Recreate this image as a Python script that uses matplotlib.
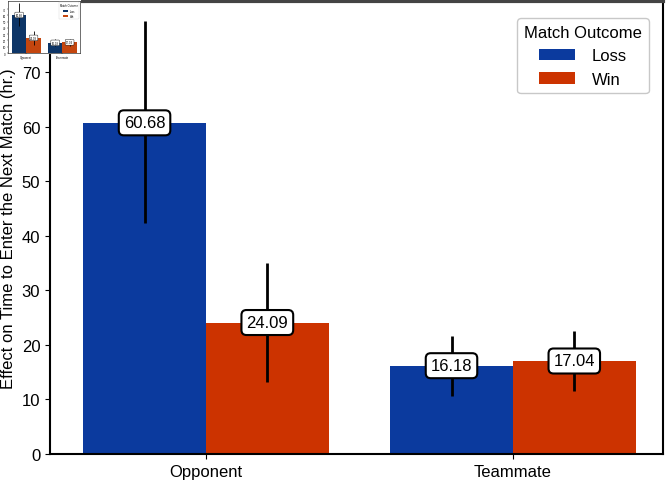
import matplotlib
matplotlib.use("Agg")
import matplotlib.pyplot as plt
import numpy as np

plt.rcParams["font.family"] = ["Liberation Sans", "DejaVu Sans"]

# data
categories = ["Opponent", "Teammate"]
outcomes = ["Loss", "Win"]
loss_means = [60.68, 16.18]
win_means = [24.09, 17.04]
loss_ci_low = [42.3, 10.6]
loss_ci_high = [79.3, 21.6]
win_ci_low = [13.2, 11.5]
win_ci_high = [35.0, 22.6]
y_ticks = [0, 10, 20, 30, 40, 50, 60, 70]

colors = ["#0b3a9e", "#cc3300"]
thumb_colors = ["#0d3567", "#c4460f"]

W, H = 666, 485


def px_axes(fig, x0, y0, x1, y1):
    # pixel box (top-left origin) -> figure axes
    return fig.add_axes([x0 / W, 1 - y1 / H, (x1 - x0) / W, (y1 - y0) / H])


def draw_bars(ax, cols, lw_err, fs, box_lw, with_labels=True):
    x = np.arange(len(categories))
    width = 0.4
    means = [loss_means, win_means]
    lows = [loss_ci_low, win_ci_low]
    highs = [loss_ci_high, win_ci_high]
    for i, name in enumerate(outcomes):
        pos = x - width / 2 + i * width
        ax.bar(pos, means[i], width, color=cols[i], label=name, zorder=2)
        ax.vlines(pos, lows[i], highs[i], color="black", lw=lw_err, zorder=3)
        if with_labels:
            for p, m in zip(pos, means[i]):
                ax.text(p, m, f"{m:.2f}", ha="center", va="center",
                        fontsize=fs, zorder=4,
                        bbox=dict(boxstyle="round,pad=0.3", fc="white",
                                  ec="black", lw=box_lw))
    ax.set_xticks(x)
    ax.set_xlim(-0.508, 1.489)
    ax.set_ylim(0, 83)
    ax.set_yticks(y_ticks)


fig = plt.figure(figsize=(W / 100, H / 100), dpi=100)

ax = px_axes(fig, 50, 2, 663, 455)
draw_bars(ax, colors, 2.0, 12, 1.5)
ax.set_xticklabels(categories, fontsize=12)
ax.tick_params(axis="y", labelsize=12)
ax.set_ylabel("Effect on Time to Enter the Next Match (hr.)", fontsize=12)
for s in ax.spines.values():
    s.set_linewidth(1.5)
ax.spines["top"].set_color("#444444")
ax.spines["top"].set_linewidth(3)
leg = ax.legend(title="Match Outcome", loc="upper right", fontsize=12,
                title_fontsize=12, bbox_to_anchor=(0.99, 0.98),
                handlelength=2.2, handletextpad=1.0)
leg.get_frame().set_edgecolor("#bbbbbb")

# small thumbnail of the same chart in the top-left corner
bg = px_axes(fig, 0, 0, 81, 55)
bg.set_facecolor("white")
bg.set_xticks([])
bg.set_yticks([])
for s in bg.spines.values():
    s.set_visible(False)

th = px_axes(fig, 8, 2, 80, 54)
draw_bars(th, thumb_colors, 0.6, 2, 0.3)
th.set_xticklabels(categories, fontsize=2)
th.tick_params(labelsize=2, length=1, width=0.3, pad=0.5)
th.set_ylabel("Effect on Time to Enter the Next Match (hr.)", fontsize=1.5,
              labelpad=1)
for s in th.spines.values():
    s.set_linewidth(0.4)
tl = th.legend(title="Match Outcome", loc="upper right", fontsize=1.8,
               title_fontsize=1.8, frameon=True)
tl.get_frame().set_linewidth(0.3)

fig.savefig("out.png", dpi=100)
